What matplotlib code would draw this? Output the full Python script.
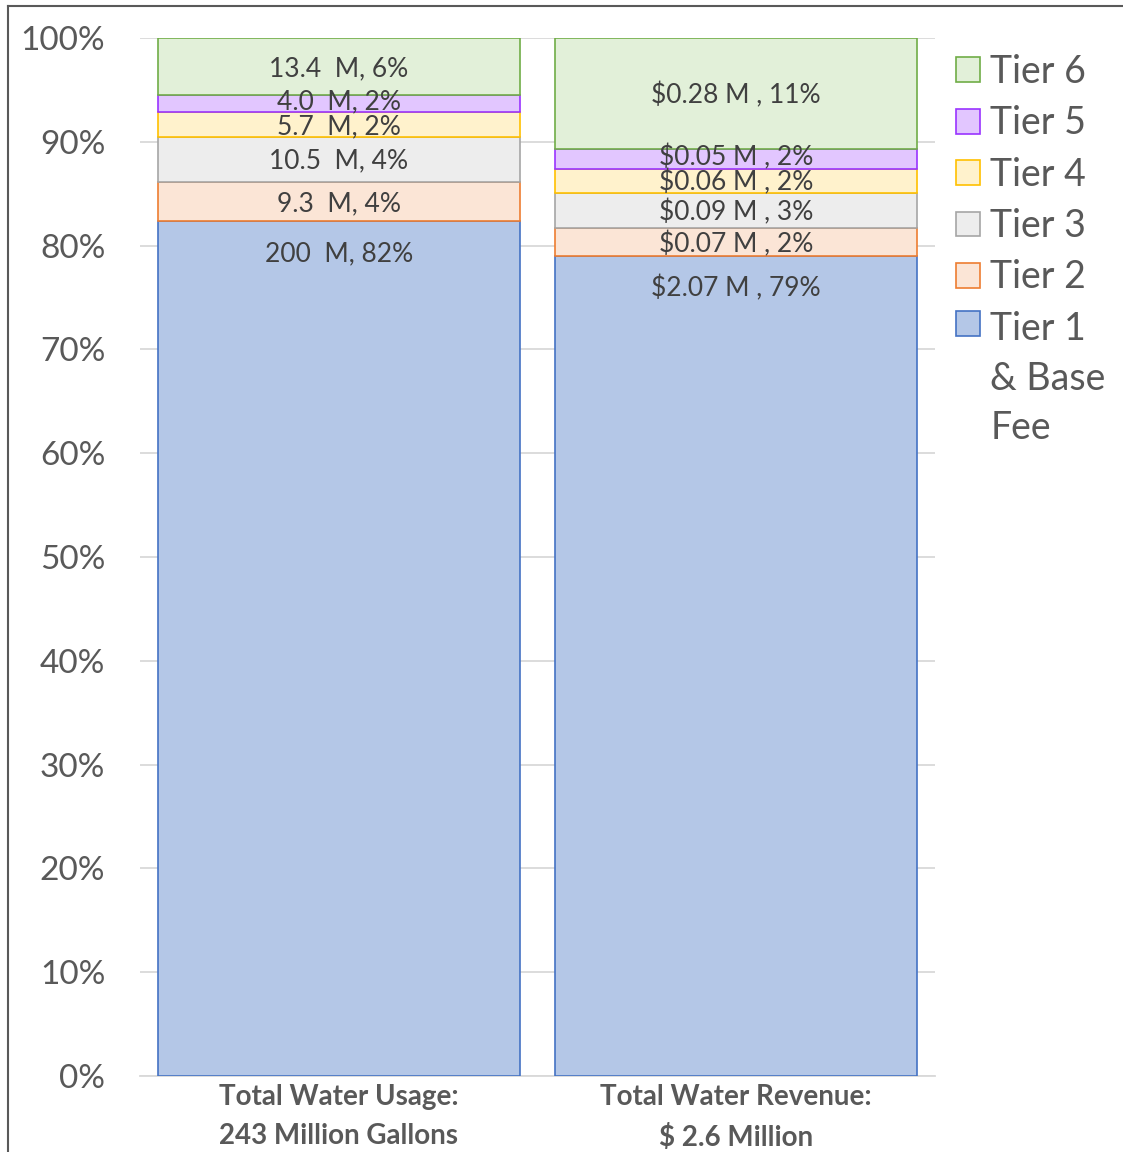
import matplotlib
matplotlib.use("Agg")
import matplotlib.pyplot as plt
from matplotlib.lines import Line2D
import numpy as np

plt.rcParams['font.family'] = ['Lato', 'DejaVu Sans']

categories = ["Total Water Usage:\n243 Million Gallons", "Total Water Revenue:\n$ 2.6 Million"]
tiers = ["Tier 1\n& Base\nFee", "Tier 2", "Tier 3", "Tier 4", "Tier 5", "Tier 6"]
usage_mgal = [200, 9.3, 10.5, 5.7, 4.0, 13.4]
revenue_musd = [2.07, 0.07, 0.09, 0.06, 0.05, 0.28]
usage_labels = ["200  M, 82%", "9.3  M, 4%", "10.5  M, 4%", "5.7  M, 2%", "4.0  M, 2%", "13.4  M, 6%"]
revenue_labels = ["$2.07 M , 79%", "$0.07 M , 2%", "$0.09 M , 3%", "$0.06 M , 2%", "$0.05 M , 2%", "$0.28 M , 11%"]
y_ticks = [0, 10, 20, 30, 40, 50, 60, 70, 80, 90, 100]

fills = ["#B4C7E7", "#FBE5D6", "#EDEDED", "#FFF2CC", "#E2C6FF", "#E2F0D9"]
edges = ["#4472C4", "#ED7D31", "#A5A5A5", "#FFC000", "#9933FF", "#70AD47"]
# vertical nudge (points) of each tier's data label, like Excel's collision shift
label_dy = [-23.5, -1.5, -1.5, -1.5, 1.5, -1.5]

fig = plt.figure(figsize=(11.23, 11.52), dpi=100)
ax = fig.add_axes([140/1123, 1 - 1076/1152, (935-140)/1123, (1076-38)/1152])

data = np.array([usage_mgal, revenue_musd])
pct = data / data.sum(axis=1, keepdims=True) * 100
labels = [usage_labels, revenue_labels]
x = np.arange(len(categories))
bottoms = np.zeros(len(categories))
handles = []
for i, tier in enumerate(tiers):
    bars = ax.bar(x, pct[:, i], width=0.91, bottom=bottoms, color=fills[i],
                  edgecolor=edges[i], linewidth=1.2, label=tier, zorder=3)
    handles.append(bars)
    for j in range(len(categories)):
        ypos = bottoms[j] + pct[j, i] if i == 0 else bottoms[j] + pct[j, i] / 2
        ax.annotate(labels[j][i], (x[j], ypos), xytext=(0, label_dy[i]),
                    textcoords="offset points", ha="center", va="center",
                    fontsize=19, color="#404040", zorder=5)
    bottoms = bottoms + pct[:, i]

ax.set_xlim(-0.5, 1.5)
ax.set_ylim(0, 100)
ax.set_yticks(y_ticks)
ax.set_yticklabels([f"{t}%" for t in y_ticks], fontsize=24, color="#595959")
ax.set_xticks(x)
ax.set_xticklabels(categories, fontsize=20, fontweight="bold", color="#595959", linespacing=1.6)
ax.tick_params(axis="both", length=0)
ax.tick_params(axis="y", pad=25)
ax.tick_params(axis="x", pad=6)
ax.grid(axis="y", color="#D9D9D9", linewidth=1.3, zorder=0)
for s in ["top", "right", "left"]:
    ax.spines[s].set_visible(False)
ax.spines["bottom"].set_color("#D9D9D9")
ax.spines["bottom"].set_linewidth(1.3)

leg = ax.legend(handles[::-1], tiers[::-1], loc="upper left",
                bbox_to_anchor=(956/1123, 1 - 54/1152), bbox_transform=fig.transFigure,
                frameon=False, fontsize=27, handlelength=0.64, handleheight=0.64,
                handletextpad=0.28, labelspacing=0.41, borderpad=0, borderaxespad=0)
for t in leg.get_texts():
    t.set_color("#595959")
    t.set_linespacing(1.47)
# align the multi-line entry's marker with its first line
col = leg._legend_handle_box.get_children()[0]
col.get_children()[-1].align = "top"

fig.add_artist(Line2D([8/1123, 8/1123], [0, 1 - 6/1152], transform=fig.transFigure,
                      color="#595959", linewidth=1.5))
fig.add_artist(Line2D([8/1123, 1], [1 - 6/1152, 1 - 6/1152], transform=fig.transFigure,
                      color="#595959", linewidth=1.5))

fig.savefig("out.png", dpi=100)
